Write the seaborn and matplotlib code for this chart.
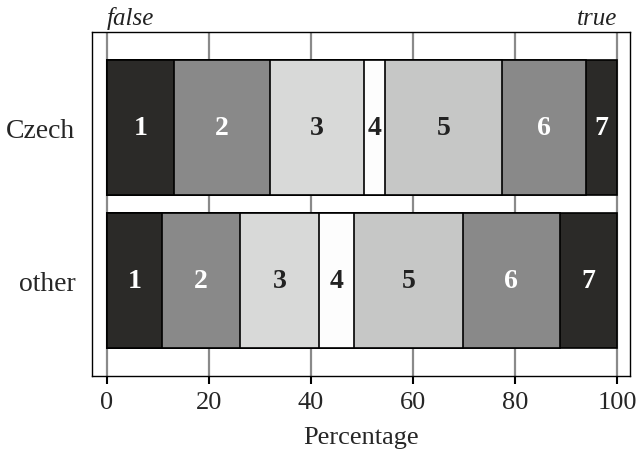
import numpy as np
import pandas as pd
import matplotlib
matplotlib.use("Agg")
import matplotlib.pyplot as plt
import seaborn as sns

# values (percent per answer level 1..7)
groups = ["Czech", "other"]
levels = ["1", "2", "3", "4", "5", "6", "7"]
czech = [13.2, 18.8, 18.4, 4.1, 22.9, 16.4, 6.2]
other = [10.8, 15.2, 15.6, 6.8, 21.4, 18.9, 11.3]
colors = ["#2b2a28", "#898989", "#d8d9d8", "#fdfdfd", "#c6c7c6", "#898989", "#2b2a28"]
text_colors = ["white", "white", "#222222", "#222222", "#222222", "white", "white"]

sns.set_style("white")
plt.rcParams["font.family"] = ["Liberation Serif", "DejaVu Serif"]

vals = np.array([czech, other])
cum = vals.cumsum(axis=1)

fig, ax = plt.subplots(figsize=(6.36, 4.52), dpi=100)
fig.subplots_adjust(left=92 / 636, right=630 / 636, top=1 - 33 / 452, bottom=1 - 377 / 452)

# stacked bars: draw cumulative totals from the largest down so each one covers the next
for k in range(len(levels) - 1, -1, -1):
    df = pd.DataFrame({"group": groups, "value": cum[:, k]})
    sns.barplot(data=df, x="value", y="group", orient="h", color=colors[k],
                width=0.88, edgecolor="black", linewidth=1.2, ax=ax, saturation=1)

# level numbers in the middle of each segment
for i in range(len(groups)):
    starts = cum[i] - vals[i]
    for k, lab in enumerate(levels):
        ax.text(starts[k] + vals[i][k] / 2, i, lab, ha="center", va="center",
                fontsize=20, fontweight="bold", color=text_colors[k])

ax.set_xlim(-2.9, 102.5)
ax.set_ylim(1.62, -0.62)
ax.set_xticks([0, 20, 40, 60, 80, 100])
ax.grid(axis="x", color="#8a8a8a", linewidth=1.6)
ax.grid(axis="y", visible=False)
ax.set_axisbelow(True)
for s in ax.spines.values():
    s.set_color("black")
    s.set_linewidth(1.0)
ax.tick_params(axis="x", direction="out", length=6, width=1.5, color="black",
               labelsize=19, pad=5, bottom=True)
ax.tick_params(axis="y", length=0, labelsize=20, pad=12)
ax.set_xlabel("Percentage", fontsize=19, labelpad=9)
ax.set_ylabel("")

ax.text(0, 1.008, "false", transform=ax.get_xaxis_transform(), ha="left", va="bottom",
        fontsize=18, style="italic", color="#222222")
ax.text(100, 1.008, "true", transform=ax.get_xaxis_transform(), ha="right", va="bottom",
        fontsize=18, style="italic", color="#222222")

plt.savefig("out.png", dpi=100)
